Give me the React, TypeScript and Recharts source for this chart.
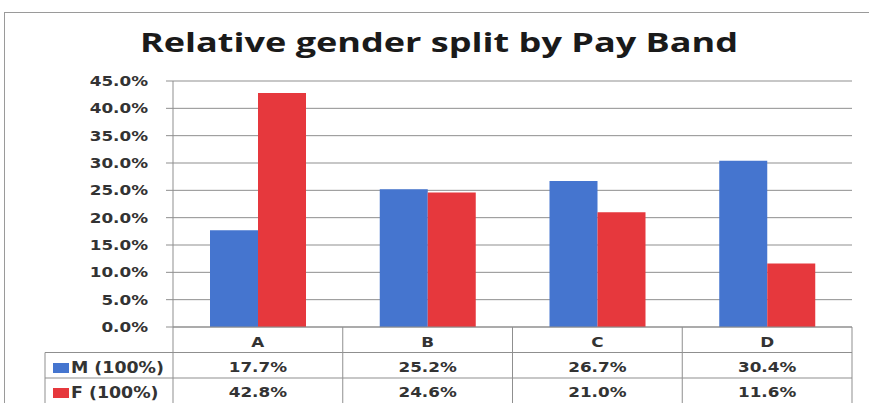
import React from 'react';
import { BarChart, Bar, XAxis, YAxis, CartesianGrid } from 'recharts';

const categories = ['A', 'B', 'C', 'D'];
const maleShare = [17.7, 25.2, 26.7, 30.4];
const femaleShare = [42.8, 24.6, 21.0, 11.6];
const seriesNames = ['M (100%)', 'F (100%)'];
const yTicks = [0, 5, 10, 15, 20, 25, 30, 35, 40, 45];

const BLUE = '#4575CF';
const RED = '#E6383D';
const LINE = '#8f8f8f';
const TEXT = '#333';
const FONT = '"DejaVu Sans", Verdana, sans-serif';
const STRETCH = 1.2; // the scanned source is a bit wide

const data = categories.map((c, i) => ({ name: c, m: maleShare[i], f: femaleShare[i] }));

const fmt = (v: number) => `${v.toFixed(1)}%`;

const Wide = ({ x, y, anchor, size = 14, sx = STRETCH, children }: any) => (
  <text
    transform={`translate(${x},${y}) scale(${sx},1)`}
    textAnchor={anchor}
    fill={TEXT}
    fontSize={size}
    fontWeight="bold"
    fontFamily={FONT}
  >
    {children}
  </text>
);

const YTick = (props: any) => {
  const { x, y, payload } = props;
  return (
    <Wide x={x} y={y + 5} anchor="end">
      {fmt(payload.value)}
    </Wide>
  );
};

// x-axis tick that draws one column of the data table under the bars
const TableTick = (props: any) => {
  const { x, y, payload, index } = props;
  const half = payload && payload.offset ? payload.offset : 84.9;
  const r1 = y + 25.5;
  const r2 = y + 51;
  const bottom = y + 90;
  const left = x - half;
  const right = x + half;
  return (
    <g>
      <line x1={left} x2={right} y1={r1} y2={r1} stroke={LINE} />
      <line x1={left} x2={right} y1={r2} y2={r2} stroke={LINE} />
      <line x1={right} x2={right} y1={y} y2={bottom} stroke={LINE} />
      {index === 0 && (
        <g>
          <line x1={left} x2={left} y1={y} y2={bottom} stroke={LINE} />
          <line x1={45} x2={left} y1={r1} y2={r1} stroke={LINE} />
          <line x1={45} x2={left} y1={r2} y2={r2} stroke={LINE} />
          <line x1={45} x2={45} y1={r1} y2={bottom} stroke={LINE} />
          <rect x={53} y={r1 + 10.5} width={16} height={10} fill={BLUE} />
          <rect x={53} y={r2 + 10} width={16} height={10} fill={RED} />
          <Wide x={71} y={r1 + 20.5} anchor="start" size={15} sx={1.16}>{seriesNames[0]}</Wide>
          <Wide x={71} y={r2 + 19.5} anchor="start" size={15} sx={1.16}>{seriesNames[1]}</Wide>
        </g>
      )}
      <Wide x={x} y={y + 19.5} anchor="middle">{payload.value}</Wide>
      <Wide x={x} y={r1 + 19.5} anchor="middle">{fmt(maleShare[index])}</Wide>
      <Wide x={x} y={r2 + 18.5} anchor="middle">{fmt(femaleShare[index])}</Wide>
    </g>
  );
};

export default function App() {
  return (
    <div style={{ position: 'absolute', left: 0, top: 0, width: 869, height: 403, background: '#fff', overflow: 'hidden' }}>
      <BarChart
        width={869}
        height={403}
        data={data}
        margin={{ top: 81, right: 17, left: 0, bottom: 0 }}
        barCategoryGap={37}
        barGap={0}
      >
        <CartesianGrid vertical={false} stroke={LINE} />
        <XAxis
          dataKey="name"
          height={76}
          tickLine={false}
          tickSize={0}
          tickMargin={0}
          axisLine={{ stroke: LINE }}
          tick={<TableTick />}
          interval={0}
        />
        <YAxis
          width={173}
          domain={[0, 45]}
          ticks={yTicks}
          tickSize={7}
          tickMargin={18}
          axisLine={{ stroke: LINE }}
          tickLine={{ stroke: LINE }}
          tick={<YTick />}
          interval={0}
        />
        <Bar dataKey="m" name={seriesNames[0]} fill={BLUE} isAnimationActive={false} />
        <Bar dataKey="f" name={seriesNames[1]} fill={RED} isAnimationActive={false} />
      </BarChart>
      <svg width={869} height={403} style={{ position: 'absolute', left: 0, top: 0, pointerEvents: 'none' }}>
        <rect x={4.5} y={12.5} width={900} height={420} fill="none" stroke="#9a9a9a" />
        <text
          x={140}
          y={52}
          textLength={598}
          lengthAdjust="spacingAndGlyphs"
          fontSize={27}
          fontWeight="bold"
          fontFamily='"Open Sans", sans-serif'
          fill="#1a1a1a"
        >
          Relative gender split by Pay Band
        </text>
      </svg>
    </div>
  );
}
